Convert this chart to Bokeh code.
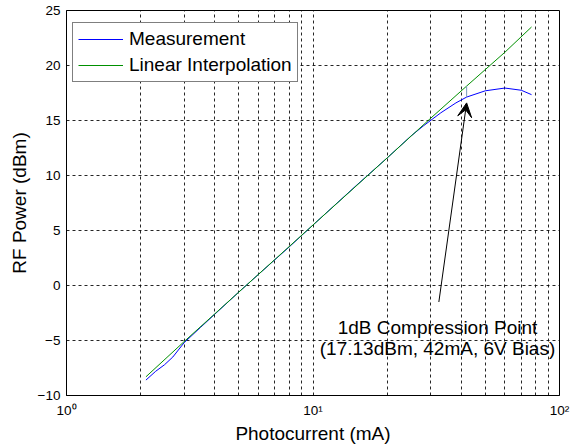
from bokeh.plotting import figure
from bokeh.models import (FixedTicker, Arrow, VeeHead, ColumnDataSource, Legend, LegendItem)
from bokeh.core.properties import value
from bokeh.embed import file_html
from bokeh.resources import INLINE

# ---- data ----
meas_I = [2.1, 2.3, 2.5, 2.7, 3.0, 3.5, 4, 5, 6, 8, 10, 15, 20, 25, 28, 33, 38, 42, 50, 60, 70, 77]
meas_P = [-8.6, -7.8, -7.2, -6.5, -5.2, -3.8, -2.6, -0.6, 1.0, 3.5, 5.5, 9.1, 11.6, 13.6, 14.5,
          15.7, 16.6, 17.13, 17.7, 17.95, 17.75, 17.35]
lin_I = [2.1, 3, 5, 10, 20, 30, 42, 60, 77]
lin_P = [-8.3, -5.1, -0.6, 5.5, 11.6, 15.2, 18.13, 21.2, 23.5]

comp_I = [42, 42]
comp_P = [17.13, 18.13]

arrow_I = [32.4, 42]
arrow_P = [-1.5, 16.6]

note_I = [32.0, 32.0]
note_P = [-3.8, -5.75]
note_text = ["1dB Compression Point", "(17.13dBm, 42mA, 6V Bias)"]

x_major = [1, 10, 100]
x_minor = [m * d for d in (1, 10) for m in range(2, 10)]
x_labels = {1: "10\u2070", 10: "10\u00b9", 100: "10\u00b2"}
y_ticks = [-10, -5, 0, 5, 10, 15, 20, 25]

FONT = "Liberation Sans"
BIG = "19px"
SMALL = "13.5px"

p = figure(x_axis_type="log", x_range=(1, 100), y_range=(-10, 25),
           width=572, height=448,
           min_border_left=66, min_border_right=13, min_border_top=10, min_border_bottom=53,
           output_backend="svg", toolbar_location=None)
p.outline_line_color = "black"
p.outline_line_width = 1

l1 = p.line(meas_I, meas_P, line_color="#0000ff", line_width=1)
l2 = p.line(lin_I, lin_P, line_color="#009000", line_width=1)
p.line(comp_I, comp_P, line_color="#7799bb", line_width=1)

p.add_layout(Arrow(end=VeeHead(size=14, fill_color="black", line_color="black"),
                   x_start=arrow_I[0], y_start=arrow_P[0], x_end=arrow_I[1], y_end=arrow_P[1],
                   line_color="black", line_width=1))

src = ColumnDataSource(dict(x=note_I, y=note_P, t=note_text))
p.text(x="x", y="y", text="t", source=src, text_align="center", text_baseline="alphabetic",
       text_font=value(FONT), text_font_size=BIG, text_color="black")

# axes
p.xaxis.ticker = FixedTicker(ticks=x_major, minor_ticks=x_minor)
p.xaxis.major_label_overrides = x_labels
p.yaxis.ticker = FixedTicker(ticks=y_ticks)
for ax in (p.xaxis[0], p.yaxis[0]):
    ax.major_tick_out = 0
    ax.major_tick_in = 0
    ax.minor_tick_out = 0
    ax.minor_tick_in = 0
    ax.major_label_text_font = FONT
    ax.major_label_text_font_size = SMALL
    ax.major_label_text_color = "black"
    ax.axis_label_text_font = FONT
    ax.axis_label_text_font_size = BIG
    ax.axis_label_text_font_style = "normal"
    ax.axis_label_text_color = "black"
    ax.axis_line_color = "black"
p.xaxis.axis_label = "Photocurrent (mA)"
p.yaxis.axis_label = "RF Power (dBm)"
p.xaxis.major_label_standoff = 7
p.xaxis.axis_label_standoff = 2
p.yaxis.major_label_standoff = 6
p.yaxis.axis_label_standoff = 5

# grids
for g in (p.xgrid[0], p.ygrid[0]):
    g.grid_line_color = "black"
    g.grid_line_dash = "3 3"
    g.grid_line_alpha = 0.85
p.xgrid.minor_grid_line_color = "black"
p.xgrid.minor_grid_line_dash = "3 3"
p.xgrid.minor_grid_line_alpha = 0.85

legend = Legend(items=[LegendItem(label="Measurement", renderers=[l1]),
                       LegendItem(label="Linear Interpolation", renderers=[l2])],
                location=(6, 313))
legend.label_text_font = FONT
legend.label_text_font_size = BIG
legend.label_text_color = "black"
legend.border_line_color = "black"
legend.border_line_width = 1
legend.padding = 5
legend.spacing = 4
legend.glyph_width = 45
legend.glyph_height = 22
legend.label_height = 22
legend.label_standoff = 6
legend.margin = 0
legend.background_fill_alpha = 1
p.add_layout(legend)

open("out.html", "w").write(file_html(p, INLINE))
